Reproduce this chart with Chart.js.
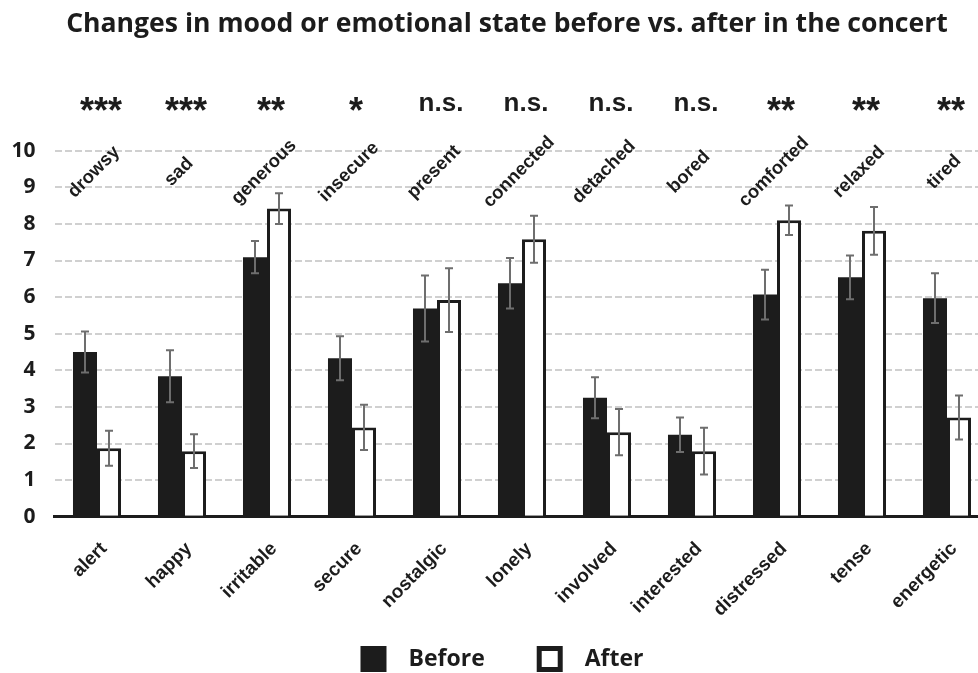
<!DOCTYPE html>
<html>
<head>
<meta charset="utf-8">
<title>Changes in mood or emotional state</title>
<script src="https://cdn.jsdelivr.net/npm/chart.js@4.4.1/dist/chart.umd.min.js"></script>
<style>
  html, body { margin: 0; padding: 0; background: #ffffff; overflow: hidden; }
  #wrap { width: 978px; height: 673px; overflow: hidden; position: relative; }
  #c { position: absolute; left: 0; top: 0; }
</style>
</head>
<body>
<div id="wrap"><canvas id="c" width="1014" height="673"></canvas></div>
<script>
// Mood descriptors (bottom axis) and their opposite poles (drawn above the bars)
const categories = ['alert', 'happy', 'irritable', 'secure', 'nostalgic', 'lonely',
                    'involved', 'interested', 'distressed', 'tense', 'energetic'];
const opposites  = ['drowsy', 'sad', 'generous', 'insecure', 'present', 'connected',
                    'detached', 'bored', 'comforted', 'relaxed', 'tired'];
const significance = ['***', '***', '**', '*', 'n.s.', 'n.s.', 'n.s.', 'n.s.', '**', '**', '**'];

// Mean ratings and error margins
const beforeValues = [4.50, 3.84, 7.09, 4.33, 5.69, 6.38, 3.25, 2.24, 6.07, 6.54, 5.97];
const beforeErrors = [0.56, 0.71, 0.44, 0.60, 0.90, 0.69, 0.56, 0.47, 0.68, 0.60, 0.68];
const afterValues  = [1.87, 1.79, 8.42, 2.44, 5.92, 7.58, 2.31, 1.79, 8.10, 7.81, 2.71];
const afterErrors  = [0.48, 0.46, 0.42, 0.62, 0.87, 0.64, 0.63, 0.64, 0.40, 0.65, 0.60];

const yTicks = [0, 1, 2, 3, 4, 5, 6, 7, 8, 9, 10];

const INK = '#1c1c1c';
const errorSets = [beforeErrors, afterErrors];

// Error bars, pole labels, significance marks and legend
const overlay = {
  id: 'overlay',
  afterDatasetsDraw(chart) {
    const ctx = chart.ctx;
    const y = chart.scales.y;
    ctx.save();
    ctx.strokeStyle = '#6e6e6e';
    ctx.lineWidth = 2;
    chart.data.datasets.forEach((ds, d) => {
      const meta = chart.getDatasetMeta(d);
      meta.data.forEach((bar, i) => {
        const v = ds.data[i], e = errorSets[d][i];
        const top = y.getPixelForValue(v + e);
        const bot = y.getPixelForValue(v - e);
        const x = bar.x, cap = 4;
        ctx.beginPath();
        ctx.moveTo(x, top); ctx.lineTo(x, bot);
        ctx.moveTo(x - cap, top); ctx.lineTo(x + cap, top);
        ctx.moveTo(x - cap, bot); ctx.lineTo(x + cap, bot);
        ctx.stroke();
      });
    });
    ctx.restore();
  },
  afterDraw(chart) {
    const ctx = chart.ctx;
    const xs = chart.scales.x;
    ctx.save();
    ctx.fillStyle = INK;

    // opposite poles, rotated
    ctx.font = '700 18.5px "Liberation Sans", Arial, sans-serif';
    ctx.textAlign = 'center';
    ctx.textBaseline = 'middle';
    opposites.forEach((t, i) => {
      ctx.save();
      ctx.translate(xs.getPixelForValue(i) - 3, 172);
      ctx.rotate(-Math.PI / 4);
      ctx.fillText(t, 0, 0);
      ctx.restore();
    });

    // significance marks, ink centred on one line
    ctx.textBaseline = 'alphabetic';
    significance.forEach((t, i) => {
      const stars = t.startsWith('*');
      ctx.font = stars ? '700 36px "Liberation Sans", Arial, sans-serif'
                       : '700 26px "Liberation Sans", Arial, sans-serif';
      const m = ctx.measureText(t);
      const base = 103.5 + (m.actualBoundingBoxAscent - m.actualBoundingBoxDescent) / 2;
      ctx.fillText(t, xs.getPixelForValue(i) + 4, base);
    });

    // legend
    ctx.font = '700 23px "Open Sans", sans-serif';
    ctx.textAlign = 'left';
    ctx.textBaseline = 'middle';
    const box = 26, textGap = 22, itemGap = 52, cy = 659;
    const items = chart.data.datasets.map(ds => ({ label: ds.label, fill: ds.backgroundColor }));
    let total = 0;
    items.forEach((it, k) => {
      it.w = ctx.measureText(it.label).width;
      total += box + textGap + it.w + (k ? itemGap : 0);
    });
    let x = chart.width / 2 - 5 - total / 2;
    items.forEach((it, k) => {
      if (k) x += itemGap;
      ctx.fillStyle = INK;
      ctx.fillRect(x, cy - box / 2, box, box);
      if (it.fill !== INK) {
        ctx.fillStyle = it.fill;
        ctx.fillRect(x + 5, cy - box / 2 + 5, box - 10, box - 10);
      }
      ctx.fillStyle = INK;
      ctx.fillText(it.label, x + box + textGap, cy);
      x += box + textGap + it.w;
    });
    ctx.restore();
  }
};

new Chart(document.getElementById('c'), {
  type: 'bar',
  data: {
    labels: categories,
    datasets: [
      {
        label: 'Before',
        data: beforeValues,
        backgroundColor: INK,
        borderWidth: 0,
        categoryPercentage: 0.565,
        barPercentage: 1.0
      },
      {
        label: 'After',
        data: afterValues,
        backgroundColor: '#ffffff',
        borderColor: INK,
        borderWidth: 3,
        categoryPercentage: 0.565,
        barPercentage: 1.0
      }
    ]
  },
  options: {
    responsive: false,
    animation: false,
    devicePixelRatio: 1,
    layout: { padding: 0 },
    plugins: {
      legend: { display: false },
      tooltip: { enabled: false },
      title: {
        display: true,
        text: 'Changes in mood or emotional state before vs. after in the concert',
        color: INK,
        font: { family: '"Open Sans", sans-serif', size: 26.6, weight: '700' },
        padding: { top: 8, bottom: 110.8 }
      }
    },
    scales: {
      x: {
        grid: { display: false },
        border: { display: true, color: INK, width: 3 },
        ticks: {
          color: INK,
          autoSkip: false,
          maxRotation: 45,
          minRotation: 45,
          padding: 13,
          labelOffset: 7,
          font: { family: '"Liberation Sans", Arial, sans-serif', size: 19, weight: '700' }
        },
        afterFit(axis) { axis.height = 156.3; }
      },
      y: {
        min: 0,
        max: 10,
        afterBuildTicks(axis) { axis.ticks = yTicks.map(v => ({ value: v })); },
        grid: {
          drawTicks: false,
          lineWidth: 2,
          color: c => (c.tick && c.tick.value === 0 ? 'rgba(0,0,0,0)' : '#d0d0d0')
        },
        border: { display: false, dash: [7, 3] },
        ticks: {
          color: INK,
          padding: 19,
          font: { family: '"Open Sans", sans-serif', size: 21, weight: '700' }
        },
        afterFit(axis) { axis.width = 54.5; }
      },
      // blank right-hand margin so the title stays centred on the full canvas
      yRight: {
        position: 'right',
        min: 0,
        max: 10,
        grid: { display: false, drawTicks: false },
        border: { display: false },
        ticks: { display: false },
        afterFit(axis) { axis.width = 24.5; }
      }
    }
  },
  plugins: [overlay]
});
</script>
</body>
</html>
